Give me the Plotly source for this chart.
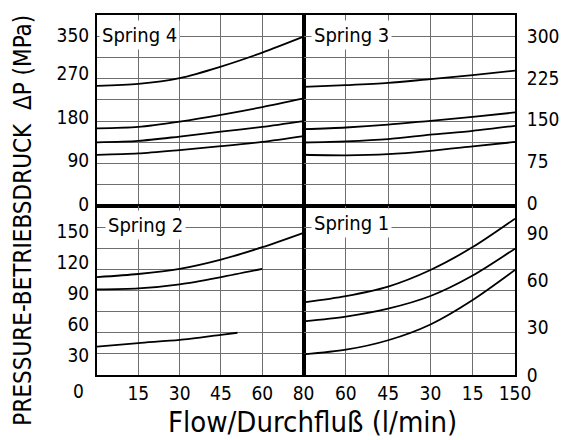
import numpy as np
import plotly.graph_objects as go
from plotly.subplots import make_subplots

# ---- Flow scale (l/min) as printed: equally spaced ticks ----
flow_ticks = [0, 15, 30, 45, 60, 80]
left_tick_labels = ["", "15", "30", "45", "60", "80"]
right_tick_labels = ["", "60", "45", "30", "15", "150"]

# ---- Spring 4 (top-left) ----
s4_flow = [0, 15, 30, 45, 60, 80]
s4_a = [245, 249, 261, 285, 314, 347]
s4_b = [157, 160, 171, 185, 201, 219]
s4_c = [128, 131, 140, 150, 160, 172]
s4_d = [102, 105, 112, 120, 129, 141]
s4_ticks = [0, 90, 180, 270, 350]

# ---- Spring 3 (top-right) ----
s3_flow = [80, 60, 45, 30, 15, 0]
s3_a = [209, 212, 216, 223, 230, 238]
s3_b = [133, 136, 141, 148, 155, 163]
s3_c = [109, 111, 115, 123, 130, 139]
s3_d = [87, 86, 88, 94, 102, 110]
s3_ticks = [0, 75, 150, 225, 300]

# ---- Spring 2 (bottom-left) ----
s2_flow_a = [0, 15, 30, 45, 60, 80]
s2_a = [106, 109, 114, 123, 135, 149]
s2_flow_b = [0, 15, 30, 45, 60]
s2_b = [94, 95, 99, 106, 114]
s2_flow_c = [0, 15, 30, 45, 51]
s2_c = [38.5, 42, 45, 50, 52]
s2_ticks = [30, 60, 90, 120, 150]

# ---- Spring 1 (bottom-right) ----
s1_flow = [80, 60, 45, 30, 15, 0]
s1_a = [46, 50, 56, 66.5, 81, 99]
s1_b = [34, 37, 42, 50, 63, 80]
s1_c = [13, 16, 22, 32, 47.5, 66.5]
s1_ticks = [0, 30, 60, 90]


def pos_left(flow):
    return np.interp(flow, flow_ticks, [0, 1, 2, 3, 4, 5])


def pos_right(flow):
    return np.interp(flow, flow_ticks, [5, 4, 3, 2, 1, 0])


FONT = "DejaVu Sans Condensed, Liberation Sans Narrow, DejaVu Sans, sans-serif"

fig = make_subplots(rows=2, cols=2, column_widths=[213, 218], row_heights=[191, 169],
                    horizontal_spacing=0, vertical_spacing=0)

line = dict(color="black", width=1.8, shape="spline", smoothing=0.8)


def add(xs, ys, mapper, r, c):
    fig.add_trace(go.Scatter(x=mapper(np.array(xs, dtype=float)), y=ys, mode="lines",
                             line=line, showlegend=False, hoverinfo="skip"), row=r, col=c)


for ys in (s4_a, s4_b, s4_c, s4_d):
    add(s4_flow, ys, pos_left, 1, 1)
for ys in (s3_a, s3_b, s3_c, s3_d):
    add(s3_flow, ys, pos_right, 1, 2)
add(s2_flow_a, s2_a, pos_left, 2, 1)
add(s2_flow_b, s2_b, pos_left, 2, 1)
add(s2_flow_c, s2_c, pos_left, 2, 1)
for ys in (s1_a, s1_b, s1_c):
    add(s1_flow, ys, pos_right, 2, 2)

GRID = "#6e6e6e"
xcommon = dict(range=[0, 5], tickvals=[0, 1, 2, 3, 4, 5], showgrid=True, gridcolor=GRID,
               gridwidth=1, showline=True, mirror=True, linecolor="black", linewidth=2,
               zeroline=False, ticks="", tickfont=dict(family=FONT, size=19, color="black"),
               ticklabelstandoff=0, fixedrange=True)
fig.update_xaxes(**xcommon)
fig.update_xaxes(showticklabels=False, row=1)
fig.update_xaxes(ticktext=left_tick_labels, row=2, col=1)
fig.update_xaxes(ticktext=right_tick_labels, row=2, col=2)

ycommon = dict(showgrid=False, showline=True, mirror=True, linecolor="black", linewidth=2,
               zeroline=False, ticks="", tickfont=dict(family=FONT, size=19, color="black"),
               fixedrange=True)


def yax(rng, ticks, nrows, side, standoff):
    d = dict(ycommon)
    d.update(range=rng, tickvals=ticks, side=side, ticklabelstandoff=standoff,
             minor=dict(tick0=rng[0], dtick=(rng[1] - rng[0]) / nrows, showgrid=True,
                        gridcolor=GRID, gridwidth=1, ticks=""))
    return d


fig.update_yaxes(**yax([-4, 392], s4_ticks, 9, "left", 2), row=1, col=1)
fig.update_yaxes(**yax([-5, 338], s3_ticks, 9, "right", 6), row=1, col=2)
fig.update_yaxes(**yax([11, 175], s2_ticks, 8, "left", 2), row=2, col=1)
fig.update_yaxes(**yax([0, 107], s1_ticks, 8, "right", 6), row=2, col=2)

labfont = dict(family=FONT, size=20, color="black")
spring_labels = [
    ("Spring 4", "x domain", "y domain", 0.009, 0.895),
    ("Spring 3", "x2 domain", "y2 domain", 0.037, 0.895),
    ("Spring 2", "x3 domain", "y3 domain", 0.038, 0.888),
    ("Spring 1", "x4 domain", "y4 domain", 0.037, 0.899),
]
for text, xr, yr, xx, yy in spring_labels:
    fig.add_annotation(text=text, xref=xr, yref=yr, x=xx, y=yy, xanchor="left",
                       yanchor="middle", showarrow=False, font=labfont,
                       bgcolor="white", borderpad=2)

fig.add_annotation(text="PRESSURE-BETRIEBSDRUCK  ΔP (MPa)", xref="paper", yref="paper",
                   x=-0.176, y=0.43, xanchor="center", yanchor="middle", textangle=-90,
                   showarrow=False, font=dict(family=FONT, size=24, color="black"))
fig.add_annotation(text="Flow/Durchfluß (l/min)", xref="paper", yref="paper",
                   x=0.515, y=-0.13, xanchor="center", yanchor="middle",
                   showarrow=False, font=dict(family=FONT, size=29, color="black"))
fig.add_annotation(text="0", xref="paper", yref="paper", x=-0.044, y=-0.044,
                   xanchor="center", yanchor="middle", showarrow=False,
                   font=dict(family=FONT, size=19, color="black"))

fig.update_layout(width=571, height=440, margin=dict(l=97, r=43, t=15, b=65),
                  plot_bgcolor="white", paper_bgcolor="white", showlegend=False,
                  hovermode=False)

# remove the browser's default 8px page margin so the figure fills the window exactly
fig.write_html("out.html", config={"displayModeBar": False, "staticPlot": True},
               post_script="document.body.style.margin='0';document.body.style.overflow='hidden';")
